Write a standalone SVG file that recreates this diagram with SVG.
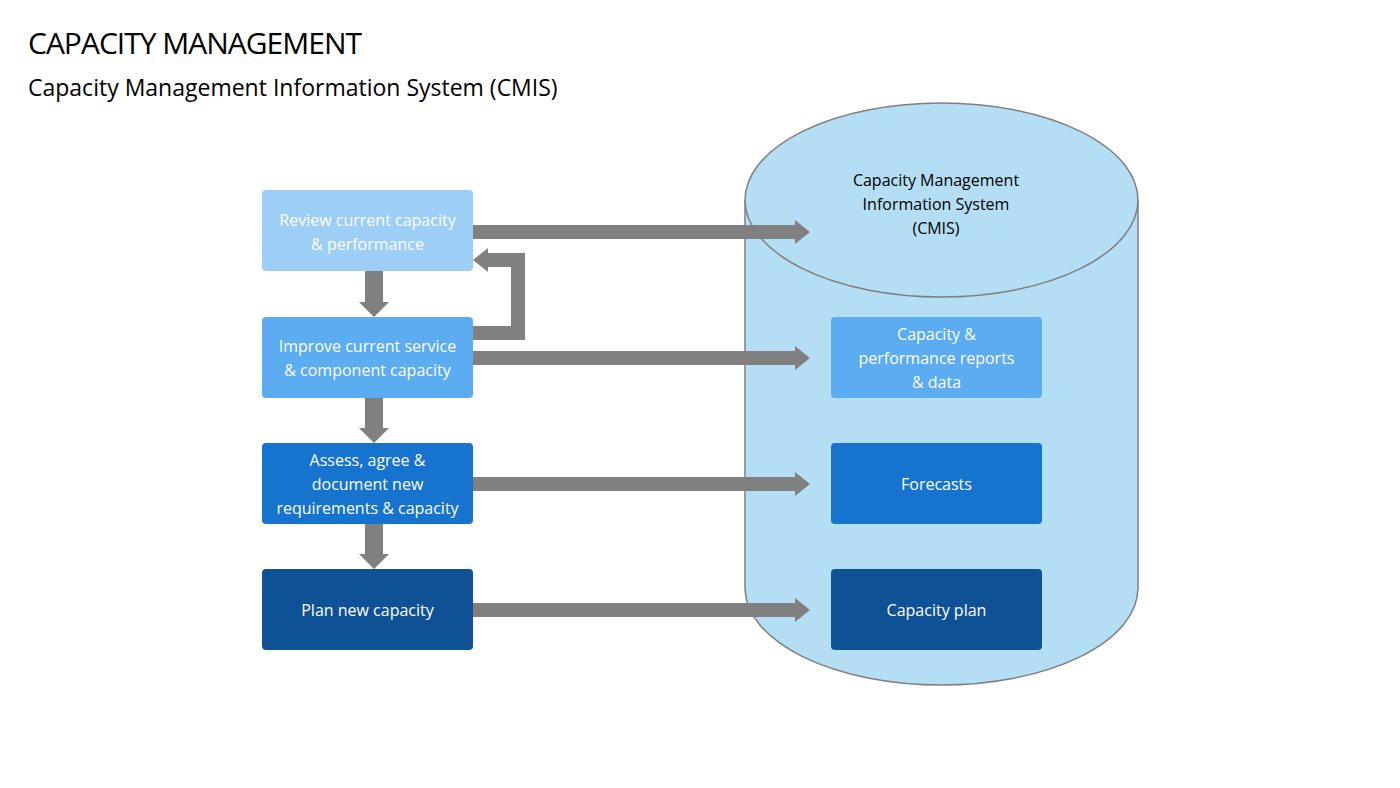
<svg xmlns="http://www.w3.org/2000/svg" width="1400" height="788" viewBox="0 0 1400 788">
<style>
text{font-family:"Open Sans","Liberation Sans",sans-serif}
.t{font-size:16px;fill:#fff;text-anchor:middle}
.a{fill:#808080}
</style>
<rect width="1400" height="788" fill="#fff"/>
<text x="28" y="54" style="font-size:30px;fill:#000;letter-spacing:-1px">CAPACITY MANAGEMENT</text>
<text x="28" y="96" style="font-size:23px;fill:#000">Capacity Management Information System (CMIS)</text>
<g id="cmis">
<path d="M745,200 V588 A196.5,97 0 0 0 1138,588 V200" fill="#B4DEF4" stroke="#7f7f7f" stroke-width="1.5"/>
<ellipse cx="941.5" cy="200" rx="196.5" ry="97" fill="#B4DEF4" stroke="#7f7f7f" stroke-width="1.5"/>
<text x="936" y="186" style="font-size:16px;fill:#000;text-anchor:middle">Capacity Management</text>
<text x="936" y="210" style="font-size:16px;fill:#000;text-anchor:middle">Information System</text>
<text x="936" y="234" style="font-size:16px;fill:#000;text-anchor:middle">(CMIS)</text>
</g>
<g id="connectors">
<polygon class="a" points="473,225 795,225 795,220 810,232 795,244 795,239 473,239"/>
<polygon class="a" points="473,351 795,351 795,346 810,358 795,370 795,365 473,365"/>
<polygon class="a" points="473,477 795,477 795,472 810,484 795,496 795,491 473,491"/>
<polygon class="a" points="473,603 795,603 795,598 810,610 795,622 795,617 473,617"/>
<polygon class="a" points="365,271 383,271 383,302 389,302 374,317 359,302 365,302"/>
<polygon class="a" points="365,398 383,398 383,428 389,428 374,443 359,428 365,428"/>
<polygon class="a" points="365,524 383,524 383,554 389,554 374,569 359,554 365,554"/>
<polygon class="a" points="473,326 511,326 511,267 488,267 488,272 473,260 488,248 488,253 525,253 525,340 473,340"/>
</g>
<g id="review"><rect x="262" y="190" width="211" height="81" rx="4" fill="#9DCEF5"/><text class="t" x="367.5" y="226">Review current capacity</text><text class="t" x="367.5" y="250">&amp; performance</text></g>
<g id="improve"><rect x="262" y="317" width="211" height="81" rx="4" fill="#5BACF0"/><text class="t" x="367.5" y="352">Improve current service</text><text class="t" x="367.5" y="376">&amp; component capacity</text></g>
<g id="assess"><rect x="262" y="443" width="211" height="81" rx="4" fill="#1674CF"/><text class="t" x="367.5" y="466">Assess, agree &amp;</text><text class="t" x="367.5" y="490">document new</text><text class="t" x="367.5" y="514">requirements &amp; capacity</text></g>
<g id="plan"><rect x="262" y="569" width="211" height="81" rx="4" fill="#0F5195"/><text class="t" x="367.5" y="616">Plan new capacity</text></g>
<g id="reports"><rect x="831" y="317" width="211" height="81" rx="4" fill="#5BACF0"/><text class="t" x="936.5" y="340">Capacity &amp;</text><text class="t" x="936.5" y="364">performance reports</text><text class="t" x="936.5" y="388">&amp; data</text></g>
<g id="forecasts"><rect x="831" y="443" width="211" height="81" rx="4" fill="#1674CF"/><text class="t" x="936.5" y="490">Forecasts</text></g>
<g id="capplan"><rect x="831" y="569" width="211" height="81" rx="4" fill="#0F5195"/><text class="t" x="936.5" y="616">Capacity plan</text></g>
</svg>
